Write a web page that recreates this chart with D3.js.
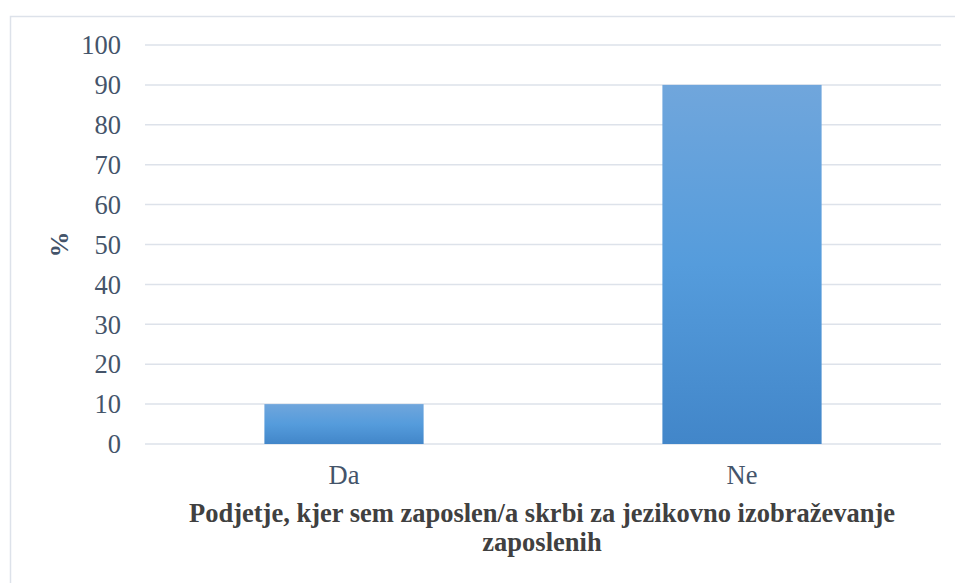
<!DOCTYPE html>
<html>
<head>
<meta charset="utf-8">
<script src="https://cdn.jsdelivr.net/npm/d3@7"></script>
<style>
  body { margin: 0; background: #fff; }
</style>
</head>
<body>
<svg id="chart" width="955" height="583" font-family="Liberation Serif"></svg>
<script>
    // Data
    const categories = ["Da", "Ne"];
    const values = [10, 90];
    const yTicks = [0, 10, 20, 30, 40, 50, 60, 70, 80, 90, 100];
    const xTitleLines = ["Podjetje, kjer sem zaposlen/a skrbi za jezikovno izobraževanje", "zaposlenih"];

    const width = 955, height = 583;
    const margin = {left: 145, right: 14, top: 45, bottom: 139};
    const serif = "Liberation Serif";

    const svg = d3.select("#chart");

    // outer frame (only left and top edges are visible)
    svg.append("path")
      .attr("d", `M10.5,${height} V16.5 H${width}`)
      .attr("fill", "none")
      .attr("stroke", "#dde2ea")
      .attr("stroke-width", 1.5);

    const x = d3.scaleBand()
      .domain(categories)
      .range([margin.left, width - margin.right])
      .paddingInner(0.6)
      .paddingOuter(0.3);

    const y = d3.scaleLinear()
      .domain([0, 100])
      .range([height - margin.bottom, margin.top]);

    // bar gradient
    const grad = svg.append("defs").append("linearGradient")
      .attr("id", "barGrad")
      .attr("x1", 0).attr("y1", 0).attr("x2", 0).attr("y2", 1);
    grad.append("stop").attr("offset", "0%").attr("stop-color", "#70a6dc");
    grad.append("stop").attr("offset", "50%").attr("stop-color", "#559cdc");
    grad.append("stop").attr("offset", "100%").attr("stop-color", "#4286c9");

    // gridlines
    svg.append("g")
      .selectAll("line")
      .data(yTicks)
      .join("line")
      .attr("x1", margin.left)
      .attr("x2", width - margin.right)
      .attr("y1", d => y(d))
      .attr("y2", d => y(d))
      .attr("stroke", "#dde2ea")
      .attr("stroke-width", 1.5);

    // y tick labels
    svg.append("g")
      .selectAll("text")
      .data(yTicks)
      .join("text")
      .attr("x", 121)
      .attr("y", d => y(d))
      .attr("dy", "0.35em")
      .attr("text-anchor", "end")
      .attr("font-family", serif)
      .attr("fill", "#44546a")
      .attr("font-size", 26.5)
      .text(d => d);

    // bars
    svg.append("g")
      .selectAll("rect")
      .data(values)
      .join("rect")
      .attr("x", (d, i) => x(categories[i]))
      .attr("width", x.bandwidth())
      .attr("y", d => y(d))
      .attr("height", d => y(0) - y(d))
      .attr("fill", "url(#barGrad)");

    // x labels
    svg.append("g")
      .selectAll("text")
      .data(categories)
      .join("text")
      .attr("x", d => x(d) + x.bandwidth() / 2)
      .attr("y", 484)
      .attr("text-anchor", "middle")
      .attr("font-family", serif)
      .attr("fill", "#44546a")
      .attr("font-size", 26.5)
      .text(d => d);

    // x axis title, one text per line
    svg.append("g")
      .selectAll("text")
      .data(xTitleLines)
      .join("text")
      .attr("x", 542)
      .attr("y", (d, i) => 522 + i * 29)
      .attr("text-anchor", "middle")
      .attr("font-family", serif)
      .attr("font-weight", "bold")
      .attr("font-size", 26.5)
      .attr("fill", "#404040")
      .text(d => d);

    // y axis title
    svg.append("text")
      .attr("transform", `translate(59,${y(50)}) rotate(-90)`)
      .attr("text-anchor", "middle")
      .attr("dy", "0.35em")
      .attr("font-family", serif)
      .attr("font-weight", "bold")
      .attr("font-size", 26)
      .attr("fill", "#44546a")
      .text("%");
</script>
</body>
</html>
